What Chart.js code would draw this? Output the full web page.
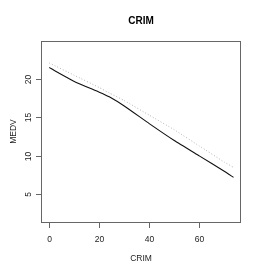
<!DOCTYPE html>
<html>
<head>
<meta charset="utf-8">
<script src="https://cdn.jsdelivr.net/npm/chart.js@4.4.0/dist/chart.umd.min.js"></script>
<style>
    html, body { margin: 0; padding: 0; background: #fff; }
    #wrap { width: 262px; height: 275px; }
</style>
</head>
<body>
<div id="wrap"><canvas id="crimChart" width="262" height="275"></canvas></div>
<script>
// ========================================
// DATA
// ========================================
const crimValues = [0, 10, 20, 24, 30, 40, 50, 60, 70, 73.7];
const medvSolid = [21.5, 19.7, 18.3, 17.7, 16.5, 14.2, 12.0, 10.0, 8.0, 7.2];
const medvDotted = [22.1, 20.5, 18.9, 18.2, 17.2, 15.3, 13.4, 11.3, 9.2, 8.5];
const xTicks = [0, 20, 40, 60];
const yTicks = [5, 10, 15, 20];
const chartTitle = 'CRIM';
const xLabel = 'CRIM';
const yLabel = 'MEDV';

const FONT = '"Liberation Sans", Arial, sans-serif';

// R-style box, ticks and labels drawn off the chart's own scales
const rAxesPlugin = {
    id: 'rAxes',
    afterDraw(chart) {
        const ctx = chart.ctx;
        const area = chart.chartArea;
        const xs = chart.scales.x;
        const ys = chart.scales.y;

        ctx.save();
        ctx.strokeStyle = '#666';
        ctx.lineWidth = 1;
        ctx.strokeRect(area.left + 0.5, area.top + 0.5, area.right - area.left - 1, area.bottom - area.top);

        ctx.fillStyle = '#222';
        ctx.font = '8.5px ' + FONT;
        ctx.textAlign = 'center';
        ctx.textBaseline = 'middle';

        xTicks.forEach(v => {
            const px = Math.round(xs.getPixelForValue(v)) + 0.5;
            ctx.beginPath();
            ctx.moveTo(px, area.bottom);
            ctx.lineTo(px, area.bottom + 6);
            ctx.stroke();
            ctx.fillText(String(v), px, 239.5);
        });

        yTicks.forEach(v => {
            const py = Math.round(ys.getPixelForValue(v)) + 0.5;
            ctx.beginPath();
            ctx.moveTo(area.left - 5, py);
            ctx.lineTo(area.left, py);
            ctx.stroke();
            ctx.save();
            ctx.translate(28.5, py);
            ctx.rotate(-Math.PI / 2);
            ctx.fillText(String(v), 0, 0);
            ctx.restore();
        });

        ctx.fillText(xLabel, (area.left + area.right) / 2, 258.5);
        ctx.save();
        ctx.translate(13.5, (area.top + area.bottom) / 2);
        ctx.rotate(-Math.PI / 2);
        ctx.fillText(yLabel, 0, 0);
        ctx.restore();

        ctx.fillStyle = '#000';
        ctx.font = 'bold 10px ' + FONT;
        ctx.fillText(chartTitle, (area.left + area.right) / 2, 21);
        ctx.restore();
    }
};

new Chart(document.getElementById('crimChart'), {
    type: 'line',
    data: {
        datasets: [
            {
                data: crimValues.map((x, i) => ({ x: x, y: medvDotted[i] })),
                borderColor: '#b4b4b4',
                borderWidth: 1,
                borderDash: [1, 2],
                pointRadius: 0,
                tension: 0.15
            },
            {
                data: crimValues.map((x, i) => ({ x: x, y: medvSolid[i] })),
                borderColor: '#111',
                borderWidth: 1.1,
                pointRadius: 0,
                tension: 0.15
            }
        ]
    },
    options: {
        responsive: false,
        animation: false,
        layout: { padding: { left: 41, top: 41, right: 21, bottom: 53 } },
        plugins: {
            legend: { display: false },
            tooltip: { enabled: false },
            title: { display: false }
        },
        scales: {
            x: { type: 'linear', min: -3.3, max: 76.7, display: false },
            y: { type: 'linear', min: 1.39, max: 24.96, display: false }
        }
    },
    plugins: [rAxesPlugin]
});
</script>
</body>
</html>
